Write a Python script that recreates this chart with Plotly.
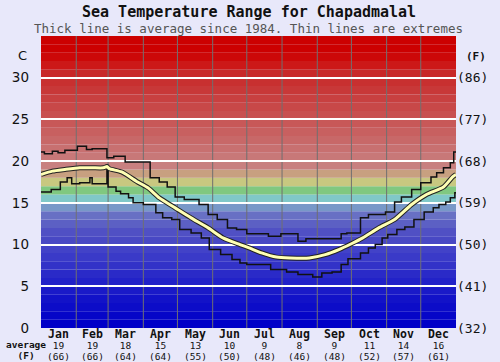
import plotly.graph_objects as go

# ---------------- data ----------------
months = ["Jan", "Feb", "Mar", "Apr", "May", "Jun", "Jul", "Aug", "Sep", "Oct", "Nov", "Dec"]
month_days = [31, 28, 31, 30, 31, 30, 31, 31, 30, 31, 30, 31]
avg_c = [19, 19, 18, 15, 13, 10, 9, 8, 9, 11, 14, 16]
avg_f = ["(66)", "(66)", "(64)", "(64)", "(55)", "(50)", "(48)", "(46)", "(48)", "(52)", "(57)", "(61)"]

c_ticks = [0, 5, 10, 15, 20, 25, 30]
f_ticks = ["(32)", "(41)", "(50)", "(59)", "(68)", "(77)", "(86)"]

# upper extreme (step line), day of year -> deg C
max_days = [0, 3, 10, 15, 21, 32, 40, 45, 58, 64, 74, 96, 104, 111, 118, 126, 139, 147, 155, 164,
            172, 181, 200, 211, 226, 233, 264, 269, 281, 288, 303, 311, 317, 326, 334, 343, 348,
            354, 360, 363, 365]
max_vals = [21.1, 20.9, 21.2, 21.0, 21.3, 21.8, 21.4, 21.5, 20.4, 20.6, 19.9, 18.0, 17.5, 16.9,
            15.7, 15.4, 14.8, 13.6, 13.0, 12.0, 11.8, 11.3, 11.0, 11.3, 10.4, 10.7, 11.3, 11.4,
            13.2, 13.6, 13.9, 15.1, 15.7, 16.6, 17.4, 18.1, 18.6, 19.2, 19.8, 21.1, 21.1]

# lower extreme (step line)
min_days = [0, 9, 17, 23, 27, 34, 43, 45, 58, 59, 66, 70, 77, 81, 90, 101, 107, 115, 122, 132,
            141, 148, 158, 168, 175, 181, 202, 216, 226, 239, 247, 256, 264, 270, 281, 288, 294,
            300, 305, 313, 320, 328, 337, 345, 350, 356, 360, 364, 365]
min_vals = [16.3, 16.6, 17.5, 18.0, 17.3, 17.4, 18.0, 17.3, 19.0, 16.9, 16.4, 16.1, 15.6, 15.0,
            14.8, 13.8, 13.2, 13.0, 11.8, 11.4, 10.8, 9.4, 8.8, 8.2, 7.8, 7.6, 7.0, 6.7, 6.4,
            6.1, 6.6, 6.7, 7.6, 8.3, 9.0, 9.6, 10.0, 10.8, 11.2, 11.8, 12.1, 13.0, 13.9, 14.4,
            14.8, 15.1, 15.6, 16.2, 16.2]

# average (thick line)
avg_days = [0, 10, 21, 34, 45, 55, 58, 60, 71, 85, 94, 104, 118, 132, 147, 160, 175, 183, 194,
            207, 219, 236, 250, 262, 273, 283, 297, 311, 326, 339, 354, 362, 365]
avg_vals = [18.4, 18.8, 19.0, 19.2, 19.2, 19.2, 19.35, 19.1, 18.7, 17.5, 16.8, 15.6, 14.4, 13.2,
            12.0, 10.8, 10.0, 9.6, 9.0, 8.5, 8.4, 8.4, 8.8, 9.4, 10.1, 10.8, 12.0, 13.0, 14.8,
            16.0, 16.9, 18.1, 18.4]

# background colour bands, one per degree from 0 up
band_colors = ["#0000c8", "#0606c8", "#0c0cc8", "#1212c8", "#1a1ac8", "#2222c8", "#2a2ac8",
               "#3232c8", "#3a3ac8", "#4242c8", "#4848c4", "#5050c4", "#5c60c4", "#6870c4",
               "#7898c8", "#80c8c8", "#80c880", "#c8c880", "#c8a080", "#c88080", "#c87878",
               "#c87070", "#c86868", "#c86060", "#c85858", "#c85050", "#c84848", "#c84040",
               "#c83838", "#c83030", "#c82828", "#cc1818", "#cc0808", "#cc0000", "#cc0000"]

# ---------------- figure ----------------
bounds = [0]
for d in month_days:
    bounds.append(bounds[-1] + d)
centers = [(bounds[i] + bounds[i + 1]) / 2 for i in range(12)]

fig = go.Figure()

shapes = []
for i, col in enumerate(band_colors):
    shapes.append(dict(type="rect", xref="x", yref="y", x0=0, x1=365, y0=i, y1=i + 1,
                       fillcolor=col, line=dict(width=0), layer="below"))
for b in bounds[1:-1]:
    shapes.append(dict(type="line", xref="x", yref="y", x0=b, x1=b, y0=0, y1=35,
                       line=dict(color="#707070", width=1), layer="below"))

mono = "DejaVu Sans Mono"

fig.add_trace(go.Scatter(x=max_days, y=max_vals, mode="lines", line_shape="hv",
                         line=dict(color="#111111", width=1.5), hoverinfo="skip"))
fig.add_trace(go.Scatter(x=min_days, y=min_vals, mode="lines", line_shape="hv",
                         line=dict(color="#111111", width=1.5), hoverinfo="skip"))
fig.add_trace(go.Scatter(x=avg_days, y=avg_vals, mode="lines", line_shape="spline",
                         line=dict(color="#222222", width=5, smoothing=0.6), hoverinfo="skip"))
fig.add_trace(go.Scatter(x=avg_days, y=avg_vals, mode="lines", line_shape="spline",
                         line=dict(color="#ffffb4", width=3, smoothing=0.6), hoverinfo="skip"))
# right axis helper trace
fig.add_trace(go.Scatter(x=[0], y=[0], yaxis="y2", mode="markers", marker=dict(opacity=0),
                         hoverinfo="skip"))

annotations = [
    dict(text="<b>Sea Temperature Range for Chapadmalal</b>", xref="paper", yref="paper",
         x=0.5, y=1, yshift=24, xanchor="center", yanchor="middle", showarrow=False,
         font=dict(family=mono, size=15, color="#111111")),
    dict(text="Thick line is average since 1984. Thin lines are extremes", xref="paper",
         yref="paper", x=0.5, y=1, yshift=8, xanchor="center", yanchor="middle", showarrow=False,
         font=dict(family=mono, size=12.5, color="#555555")),
    dict(text="C", xref="paper", yref="y", x=0, xshift=-19, y=31.5, xanchor="center",
         yanchor="bottom", showarrow=False, font=dict(family="DejaVu Sans", size=13, color="#111111")),
    dict(text="<b>(F)</b>", xref="paper", yref="y", x=1, xshift=20, y=31.5, xanchor="center",
         yanchor="bottom", showarrow=False, font=dict(family=mono, size=11, color="#111111")),
    dict(text="<span style='font-size:9.5px'><b>average</b></span><br>"
              "<span style='font-size:9.5px'><b>(F)</b></span>",
         xref="paper", yref="paper", x=0, xshift=-15, y=0, yshift=-21.5,
         xanchor="center", yanchor="middle", showarrow=False, borderpad=0,
         font=dict(family=mono, size=8.3, color="#111111")),
]
for i in range(12):
    label = ("<span style='font-size:11.5px'><b>" + months[i] + "</b></span><br>"
             "<span style='font-size:9.5px'>" + str(avg_c[i]) + "</span><br>"
             "<span style='font-size:9.5px'>" + avg_f[i] + "</span>")
    annotations.append(dict(text=label, xref="x", yref="paper", x=centers[i],
                            y=0, yshift=-16, xanchor="center", yanchor="middle",
                            showarrow=False, borderpad=0,
                            font=dict(family=mono, size=8.3, color="#111111")))

fig.update_layout(
    width=500, height=362,
    margin=dict(l=35, r=37, t=36, b=34),
    paper_bgcolor="#e8e8fa",
    plot_bgcolor="#e8e8fa",
    showlegend=False,
    shapes=shapes,
    annotations=annotations,
    xaxis=dict(range=[0, 365], showgrid=False, zeroline=False, showticklabels=False,
               ticks="", fixedrange=True),
    yaxis=dict(range=[0, 35], tickvals=c_ticks, ticktext=[str(v) for v in c_ticks],
               showgrid=True, gridcolor="#ffffff", gridwidth=2, zeroline=False,
               tickfont=dict(family="DejaVu Sans", size=13.5, color="#111111"), ticks="",
               ticklabelstandoff=11, fixedrange=True),
    yaxis2=dict(range=[0, 35], overlaying="y", side="right", tickvals=c_ticks, ticktext=f_ticks,
                showgrid=False, zeroline=False, ticks="", fixedrange=True,
                tickfont=dict(family=mono, size=13, color="#111111")),
)

fig.write_html(
    "out.html",
    config={"displayModeBar": False},
    post_script="document.body.style.margin='0';document.body.style.overflow='hidden';"
                "document.body.style.background='#e8e8fa';",
)
